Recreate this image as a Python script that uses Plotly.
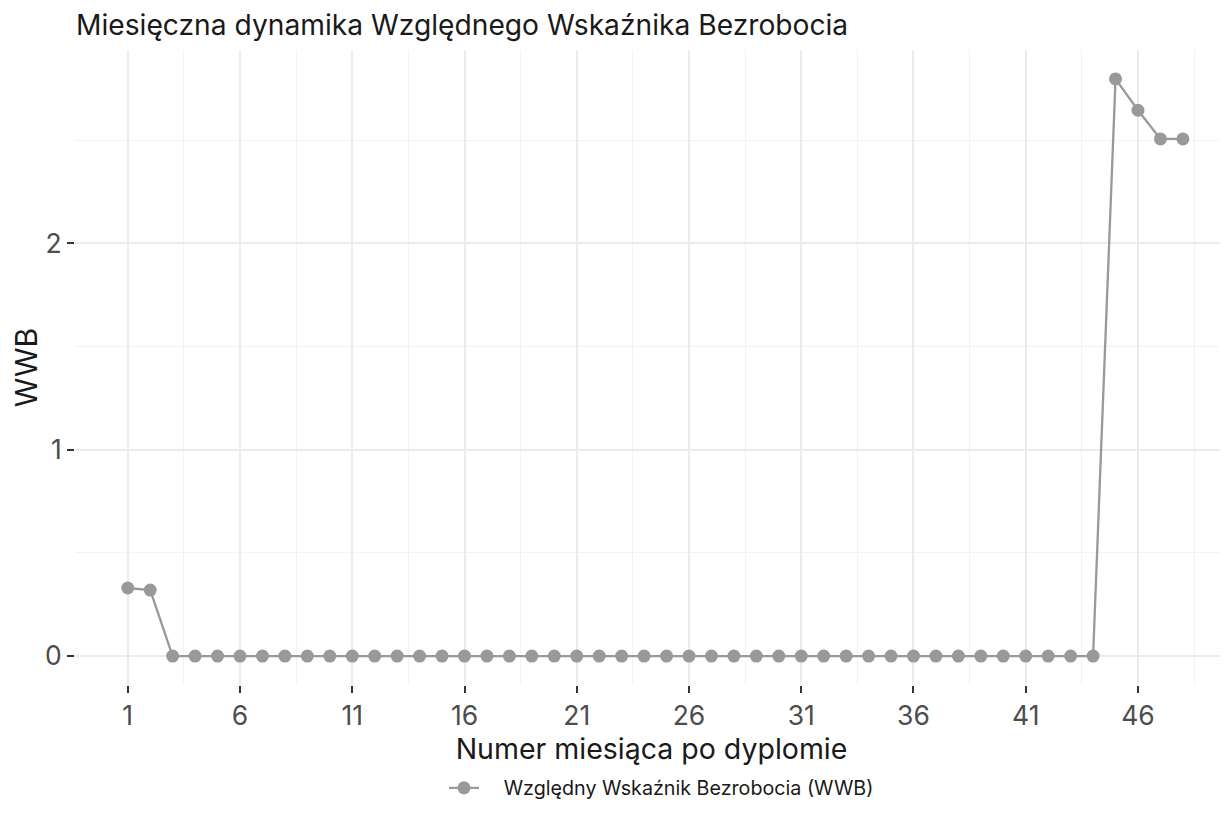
import plotly.graph_objects as go

months = list(range(1, 49))
wwb = [0.330, 0.320] + [0.0] * 42 + [2.797, 2.645, 2.506, 2.506]
x_ticks = [1, 6, 11, 16, 21, 26, 31, 36, 41, 46]
x_minor = [-1.5, 3.5, 8.5, 13.5, 18.5, 23.5, 28.5, 33.5, 38.5, 43.5, 48.5]
y_ticks = [0, 1, 2]
y_minor = [0.5, 1.5, 2.5]

FONT = "Inter"
# page body has an 8px margin; figure is laid out in page coords minus 8
W, H = 1220, 816
fig = go.Figure()
fig.add_trace(go.Scatter(
    x=months, y=wwb, mode="lines+markers",
    name="\u2002\u2002Względny Wskaźnik Bezrobocia (WWB)",
    line=dict(color="#999999", width=2.3),
    marker=dict(color="#999999", size=13),
))

fig.update_layout(
    width=W, height=H,
    paper_bgcolor="white", plot_bgcolor="white",
    font=dict(family=FONT, color="#4d4d4d"),
    margin=dict(l=67, r=0, t=42, b=139, pad=0),
    title=dict(text="Miesięczna dynamika Względnego Wskaźnika Bezrobocia",
               x=68/W, xanchor="left", y=1-17/H, yanchor="middle",
               font=dict(size=28.2, color="#1a1a1a", family=FONT)),
    showlegend=True,
    legend=dict(orientation="h", x=(653.5-67)/(W-67), xanchor="center", y=-(788-685)/635, yanchor="middle",
                font=dict(size=19.7, color="#1a1a1a", family=FONT)),
    xaxis=dict(
        range=[-1.35, 50.01], automargin=False,
        tickmode="array", tickvals=x_ticks, ticktext=[str(v) for v in x_ticks],
        showgrid=True, gridcolor="#EBEBEB", gridwidth=2.2,
        minor=dict(tickmode="array", tickvals=x_minor,
                   showgrid=True, gridcolor="#F3F3F3", gridwidth=1.1, ticks=""),
        zeroline=False, showline=False,
        ticks="outside", ticklen=7, tickwidth=2, tickcolor="#333333",
        tickfont=dict(size=26.5, color="#4d4d4d"),
        title=dict(text="Numer miesiąca po dyplomie", font=dict(size=28.5, color="#1a1a1a"), standoff=4),
    ),
    yaxis=dict(
        range=[-0.14, 2.937], automargin=False,
        tickmode="array", tickvals=y_ticks, ticktext=[str(v) for v in y_ticks],
        showgrid=True, gridcolor="#EBEBEB", gridwidth=2.2,
        minor=dict(tickmode="array", tickvals=y_minor,
                   showgrid=True, gridcolor="#F3F3F3", gridwidth=1.1, ticks=""),
        zeroline=False, showline=False,
        ticks="outside", ticklen=7, tickwidth=2, tickcolor="#333333",
        tickfont=dict(size=26.5, color="#4d4d4d"),
        title=dict(text="WWB", font=dict(size=30, color="#1a1a1a"), standoff=0),
    ),
)

fig.write_html("out.html")
